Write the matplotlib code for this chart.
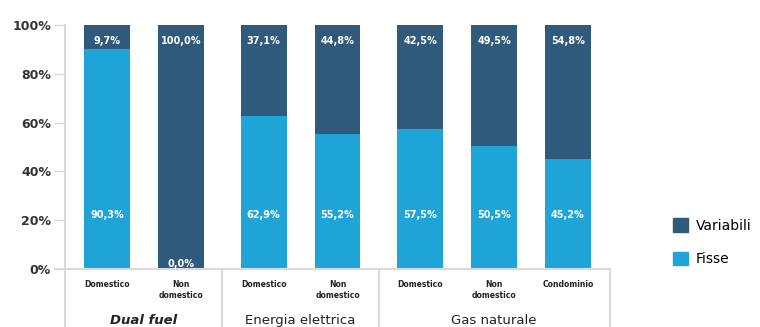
import numpy as np
import matplotlib.pyplot as plt
from matplotlib.patches import Patch

# quota fisse / variabili per tipologia di offerta
gruppi = ["Dual fuel", "Energia elettrica", "Gas naturale"]
categorie = [["Domestico", "Non\ndomestico"],
             ["Domestico", "Non\ndomestico"],
             ["Domestico", "Non\ndomestico", "Condominio"]]
fisse = [90.3, 0.0, 62.9, 55.2, 57.5, 50.5, 45.2]
variabili = [9.7, 100.0, 37.1, 44.8, 42.5, 49.5, 54.8]

c_fisse = "#1fa4d8"
c_var = "#2f5a7b"
c_grid = "#d9d9d9"

fig = plt.figure(figsize=(7.6, 3.27), dpi=100)
ax = fig.add_axes([65 / 760, 1 - 269 / 327, (610 - 65) / 760, 244 / 327])

# posizioni delle barre con spazio extra fra i gruppi
pos = []
x = 0.0
bordi = []
for i, cats in enumerate(categorie):
    if i > 0:
        x += 0.12
        bordi.append(x - 0.56)
    for c in cats:
        pos.append(x)
        x += 1.0
pos = np.array(pos)
w = 0.62

ax.bar(pos, fisse, w, color=c_fisse, zorder=2)
ax.bar(pos, variabili, w, bottom=fisse, color=c_var, zorder=2)

def fmt(v):
    return f"{v:.1f}%".replace(".", ",")

for p, f, v in zip(pos, fisse, variabili):
    ax.text(p, 93.5, fmt(v), ha="center", va="center", color="white",
            fontsize=7, fontweight="bold")
    yf = 22 if f > 0 else 2
    ax.text(p, yf, fmt(f), ha="center", va="center", color="white",
            fontsize=7, fontweight="bold")

ax.set_xlim(-0.57, pos[-1] + 0.57)
ax.set_ylim(0, 100)
ax.set_yticks(np.arange(0, 101, 20))
ax.set_yticklabels([f"{t}%" for t in range(0, 101, 20)], fontsize=9,
                   fontweight="bold", color="#333333")
ax.tick_params(axis="y", length=8, color=c_grid, width=1, pad=2)
ax.set_xticks([])
for s in ["top", "right", "bottom"]:
    ax.spines[s].set_visible(False)
ax.spines["left"].set_color(c_grid)
ax.spines["left"].set_linewidth(1.5)

# riquadro delle etichette sotto l'asse
tr = ax.get_xaxis_transform()
ax.plot([-0.57 - 0.14, pos[-1] + 0.57], [0, 0], color=c_grid, lw=1.5,
        transform=tr, clip_on=False)
for b in [-0.57] + bordi + [pos[-1] + 0.57]:
    ax.plot([b, b], [0, -0.3], color=c_grid, lw=1.5, transform=tr,
            clip_on=False)

k = 0
for g, cats in zip(gruppi, categorie):
    centri = pos[k:k + len(cats)]
    for p, c in zip(centri, cats):
        ax.text(p, -0.045, c, transform=tr, ha="center", va="top",
                fontsize=5.5, fontweight="bold", color="#222222",
                linespacing=1.3)
    ax.text(centri.mean(), -0.185, g, transform=tr, ha="center", va="top",
            fontsize=9.5, color="#222222",
            style="italic" if g == "Dual fuel" else "normal",
            fontweight="bold" if g == "Dual fuel" else "normal")
    k += len(cats)

handles = [Patch(color=c_var, label="Variabili"),
           Patch(color=c_fisse, label="Fisse")]
fig.legend(handles=handles, loc="upper left", bbox_to_anchor=(660 / 760, 1 - 206 / 327),
           frameon=False, fontsize=10, handlelength=1.1, handleheight=1.1,
           labelspacing=1.35, handletextpad=0.6)

fig.savefig("out.png", dpi=100)
